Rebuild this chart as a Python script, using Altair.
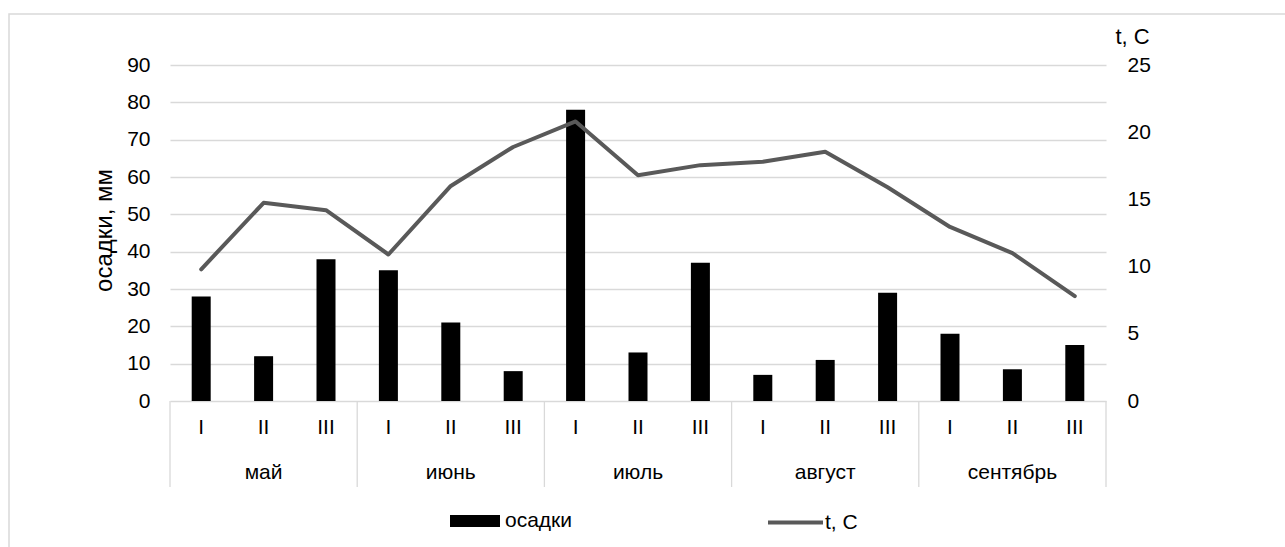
import altair as alt
import pandas as pd

months = ["май", "июнь", "июль", "август", "сентябрь"]
decades = ["I", "II", "III"]
precip = [28, 12, 38, 35, 21, 8, 78, 13, 37, 7, 11, 29, 18, 8.5, 15]
temp = [9.8, 14.75, 14.2, 10.9, 16.0, 18.9, 20.8, 16.8, 17.55, 17.8, 18.55, 15.9, 12.95, 11.0, 7.8]
left_ticks = [0, 10, 20, 30, 40, 50, 60, 70, 80, 90]
right_ticks = [0, 5, 10, 15, 20, 25]

keys = [f"{m} {d}" for m in months for d in decades]
df = pd.DataFrame({
    "key": keys,
    "month": [m for m in months for d in decades],
    "decade": [d for m in months for d in decades],
    "precip": precip,
    "temp": temp,
    "s1": "осадки",
    "s2": "t, C",
})
month_df = df[df["decade"] == "II"]
sep_df = df[df["decade"] == "I"]
end_df = df.iloc[[-1]]

W, H = 936, 336
FONT = "Liberation Sans"
FS = 21
GRID = "#d9d9d9"
LINE = "#595959"

xscale = alt.Scale(domain=keys, paddingInner=0, paddingOuter=0)
xenc = alt.X("key:N", sort=keys, scale=xscale, axis=None)

bars = alt.Chart(df).mark_bar(width=19).encode(
    x=xenc,
    y=alt.Y("precip:Q", scale=alt.Scale(domain=[0, 90], nice=False),
            axis=alt.Axis(values=left_ticks, grid=True, gridColor=GRID, gridWidth=1.3,
                          domain=False, ticks=False, labelPadding=20, labelFontSize=FS,
                          labelColor="black", title="осадки, мм", titleFontSize=24,
                          titleFontWeight="normal", titleColor="black",
                          titleX=-59, titleY=165, titleBaseline="alphabetic")),
    color=alt.Color("s1:N", scale=alt.Scale(domain=["осадки"], range=["#000000"]),
                    legend=alt.Legend(title=None, orient="none", legendX=279, legendY=430,
                                      symbolType="M-1,-0.24H1V0.24H-1Z", symbolSize=2500,
                                      labelFontSize=FS, labelColor="black", labelOffset=4,
                                      padding=0)),
)

line = alt.Chart(df).mark_line(strokeWidth=4, strokeCap="round", strokeJoin="round").encode(
    x=xenc,
    y=alt.Y("temp:Q", scale=alt.Scale(domain=[0, 25], nice=False),
            axis=alt.Axis(orient="right", values=right_ticks, grid=False, domain=False,
                          ticks=False, labelPadding=21, labelAlign="left", labelFontSize=FS,
                          labelColor="black", title="t, C", titleAngle=0, titleAlign="left",
                          titleBaseline="alphabetic", titleX=9, titleY=-22, titleFontSize=22,
                          titleFontWeight="normal", titleColor="black")),
    stroke=alt.Stroke("s2:N", scale=alt.Scale(domain=["t, C"], range=[LINE]),
                      legend=alt.Legend(title=None, orient="none", legendX=596, legendY=428,
                                        symbolType="stroke", symbolSize=3025,
                                        symbolStrokeWidth=4, labelFontSize=FS,
                                        labelColor="black", labelOffset=0, padding=0)),
)

seps = alt.Chart(sep_df).mark_rule(color=GRID, strokeWidth=1.3).encode(
    x=alt.X("key:N", sort=keys, scale=xscale, axis=None, bandPosition=0),
    y=alt.value(H), y2=alt.value(422),
)
endsep = alt.Chart(end_df).mark_rule(color=GRID, strokeWidth=1.3).encode(
    x=alt.X("key:N", sort=keys, scale=xscale, axis=None, bandPosition=1),
    y=alt.value(H), y2=alt.value(422),
)

dec_text = alt.Chart(df).mark_text(fontSize=FS, color="black", baseline="middle").encode(
    x=xenc, y=alt.value(363), text="decade:N",
)
mon_text = alt.Chart(month_df).mark_text(fontSize=FS, color="black", baseline="middle").encode(
    x=xenc, y=alt.value(408), text="month:N",
)

frame = alt.Chart(pd.DataFrame({"a": [0]})).mark_rect(fill=None, stroke=GRID, strokeWidth=1.5).encode(
    x=alt.value(-161), x2=alt.value(1300), y=alt.value(-51), y2=alt.value(700),
)

chart = alt.layer(frame, bars, seps, endsep, dec_text, mon_text, line).resolve_scale(
    y="independent", color="independent", stroke="independent"
).properties(
    width=W, height=H,
    autosize=alt.AutoSizeParams(type="none"),
    padding={"left": 170, "top": 65, "right": 179, "bottom": 146},
).configure(font=FONT).configure_view(stroke=None)

chart.save("out.html", embed_options={"renderer": "svg", "actions": False})
